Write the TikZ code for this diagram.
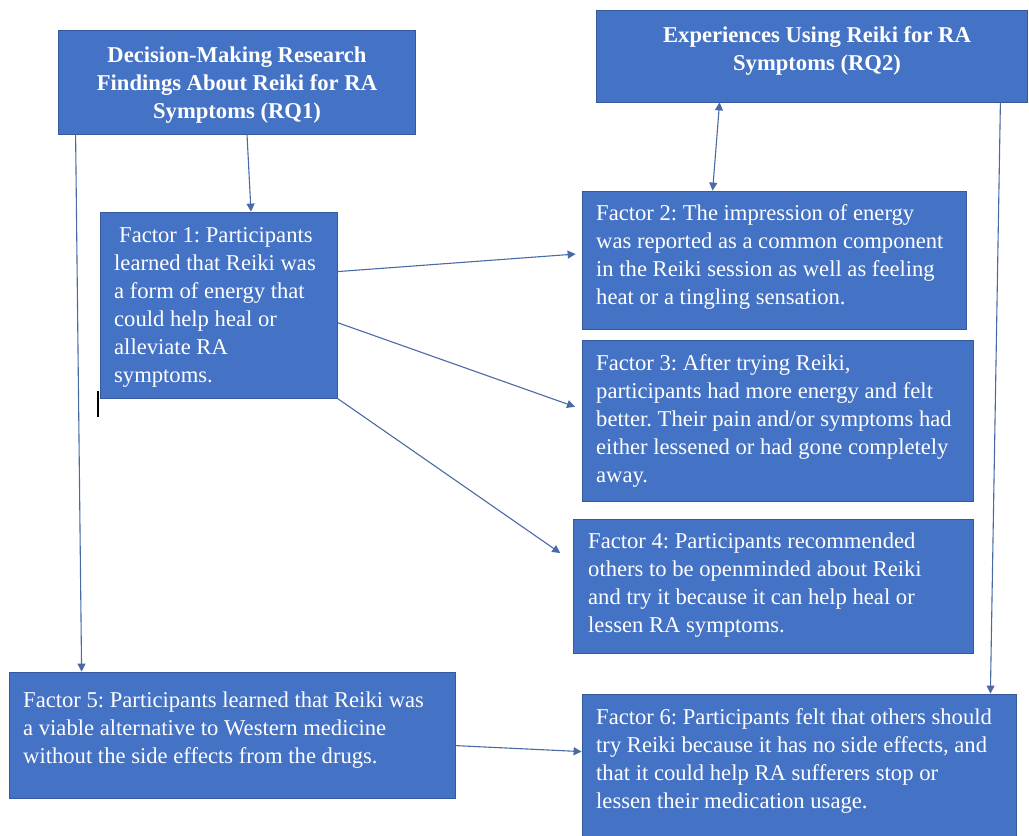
\documentclass[tikz,border=0pt]{standalone}
\usepackage{fontspec}
\setmainfont{LiberationSerif}[Extension=.ttf, UprightFont=*-Regular, BoldFont=*-Bold, ItalicFont=*-Italic, BoldItalicFont=*-BoldItalic]
\usetikzlibrary{arrows.meta,fit}
\definecolor{boxblue}{HTML}{4472C4}
\definecolor{boxedge}{HTML}{35599C}
\definecolor{linecol}{HTML}{4A6AA6}
\newcommand{\bodytext}[1]{\parbox[t]{430bp}{\frenchspacing\fontsize{22.7}{28.2}\selectfont\raggedright #1}}
\newcommand{\headtext}[1]{\parbox[t]{430bp}{\frenchspacing\fontsize{22.7}{28.2}\selectfont\bfseries\centering #1}}
\tikzset{
  bluebox/.style={draw=boxedge, fill=boxblue, line width=0.8bp, inner sep=0pt, rectangle},
  txt/.style={anchor=base west, inner sep=0pt, text=white},
  htxt/.style={anchor=base, inner sep=0pt, text=white},
  conn/.style={draw=linecol, line width=1.1bp, -{Triangle[length=8bp,width=8bp]}},
  biconn/.style={draw=linecol, line width=1.1bp, {Triangle[length=8bp,width=8bp]}-{Triangle[length=8bp,width=8bp]}}
}
\begin{document}
\begin{tikzpicture}[x=1bp,y=-1bp]
\useasboundingbox (0,0) rectangle (1029,836);
\fill[white] (0,0) rectangle (1029,836);

% boxes
\node[bluebox, fit={(58,30) (415,134)}] (rq1) {};
\node[bluebox, fit={(596,10) (1027,102)}] (rq2) {};
\node[bluebox, fit={(100,212) (337,398)}] (f1) {};
\node[bluebox, fit={(582,191) (966,329)}] (f2) {};
\node[bluebox, fit={(582,340) (973,501)}] (f3) {};
\node[bluebox, fit={(573,519) (973,653)}] (f4) {};
\node[bluebox, fit={(9,672) (455,798)}] (f5) {};
\node[bluebox, fit={(582,694) (1016,838)}] (f6) {};

% texts
\node[htxt] (t-rq1) at (237,62) {\headtext{Decision-Making Research\\Findings About Reiki for RA\\Symptoms (RQ1)}};
\node[htxt] (t-rq2) at (817,42) {\headtext{Experiences Using Reiki for RA\\Symptoms (RQ2)}};
\node[txt] (t-f1) at (114,242) {\bodytext{\hspace*{5bp}Factor 1: Participants\\learned that Reiki was\\a form of energy that\\could help heal or\\alleviate RA\\symptoms.}};
\node[txt] (t-f2) at (596,220) {\bodytext{Factor 2: The impression of energy\\was reported as a common component\\in the Reiki session as well as feeling\\heat or a tingling sensation.}};
\node[txt] (t-f3) at (596,370) {\bodytext{Factor 3: After trying Reiki,\\participants had more energy and felt\\better. Their pain and/or symptoms had\\either lessened or had gone completely\\away.}};
\node[txt] (t-f4) at (588,548) {\bodytext{Factor 4: Participants recommended\\others to be openminded about Reiki\\and try it because it can help heal or\\lessen RA symptoms.}};
\node[txt] (t-f5) at (23,707) {\bodytext{Factor 5: Participants learned that Reiki was\\a viable alternative to Western medicine\\without the side effects from the drugs.}};
\node[txt] (t-f6) at (596,724) {\bodytext{Factor 6: Participants felt that others should\\try Reiki because it has no side effects, and\\that it could help RA sufferers stop or\\lessen their medication usage.}};

% connectors
\draw[conn] ([xshift=10.5bp]rq1.south) -- ([xshift=32.5bp]f1.north);
\draw[conn] ([xshift=18bp]rq1.south west) -- ([xshift=73bp]f5.north west);
\draw[biconn] ([xshift=124bp]rq2.south west) -- ([xshift=131bp]f2.north west);
\draw[conn] ([xshift=-27bp]rq2.south east) -- ([xshift=-26bp]f6.north east);
\draw[conn, shorten >=6bp] ([yshift=-60bp]f1.north east) -- ([yshift=-63bp]f2.north west);
\draw[conn, shorten >=7bp] ([yshift=-111bp]f1.north east) -- ([yshift=-69.5bp]f3.north west);
\draw[conn, shorten >=15bp] (f1.south east) -- ([yshift=-43bp]f4.north west);
\draw[conn] ([yshift=-74bp]f5.north east) -- ([yshift=-58bp]f6.north west);

% text cursor mark
\draw[black, line width=1.2bp] (98,391) -- (98,417);
\end{tikzpicture}
\end{document}
